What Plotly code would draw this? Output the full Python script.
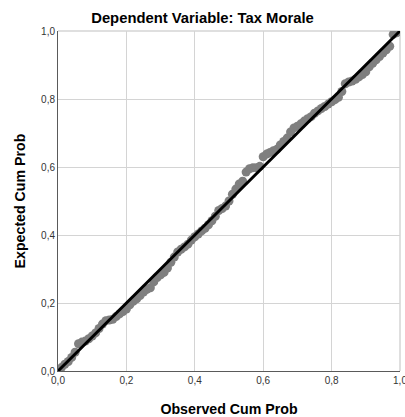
import plotly.graph_objects as go

observed = [0.00, 0.01, 0.02, 0.03, 0.04, 0.05, 0.06, 0.07, 0.08, 0.09,
            0.10, 0.11, 0.12, 0.13, 0.14, 0.15, 0.16, 0.17, 0.18, 0.19,
            0.20, 0.21, 0.22, 0.23, 0.24, 0.25, 0.26, 0.27, 0.28, 0.29,
            0.30, 0.31, 0.32, 0.33, 0.34, 0.35, 0.36, 0.37, 0.38, 0.39,
            0.40, 0.41, 0.42, 0.43, 0.44, 0.45, 0.46, 0.47, 0.48, 0.49,
            0.50, 0.51, 0.52, 0.53, 0.54, 0.55, 0.56, 0.57, 0.58, 0.59,
            0.60, 0.61, 0.62, 0.63, 0.64, 0.65, 0.66, 0.67, 0.68, 0.69,
            0.70, 0.71, 0.72, 0.73, 0.74, 0.75, 0.76, 0.77, 0.78, 0.79,
            0.80, 0.81, 0.82, 0.83, 0.84, 0.85, 0.86, 0.87, 0.88, 0.89,
            0.90, 0.91, 0.92, 0.93, 0.94, 0.95, 0.96, 0.97, 0.98, 0.99, 1.00]
expected = [0.000, 0.010, 0.020, 0.028, 0.040, 0.055, 0.080, 0.085, 0.088, 0.095,
            0.103, 0.112, 0.125, 0.138, 0.148, 0.150, 0.152, 0.160, 0.168, 0.175,
            0.182, 0.195, 0.205, 0.212, 0.222, 0.232, 0.240, 0.245, 0.262, 0.275,
            0.283, 0.290, 0.303, 0.320, 0.335, 0.350, 0.358, 0.365, 0.373, 0.385,
            0.395, 0.403, 0.412, 0.420, 0.430, 0.442, 0.455, 0.472, 0.478, 0.485,
            0.500, 0.520, 0.535, 0.550, 0.558, 0.585, 0.595, 0.598, 0.598, 0.602,
            0.630, 0.638, 0.643, 0.648, 0.652, 0.665, 0.675, 0.685, 0.703, 0.715,
            0.720, 0.727, 0.735, 0.742, 0.748, 0.758, 0.765, 0.772, 0.778, 0.785,
            0.792, 0.798, 0.805, 0.822, 0.845, 0.850, 0.853, 0.858, 0.865, 0.872,
            0.880, 0.895, 0.905, 0.915, 0.925, 0.935, 0.945, 0.955, 0.990, 0.995, 1.000]
ref_line = [0.0, 1.0]
tick_vals = [0.0, 0.2, 0.4, 0.6, 0.8, 1.0]
tick_text = ["0,0", "0,2", "0,4", "0,6", "0,8", "1,0"]

fig = go.Figure()
fig.add_trace(go.Scatter(x=observed, y=expected, mode="markers",
                         marker=dict(size=9, color="#7f7f7f", line=dict(width=0)),
                         showlegend=False, cliponaxis=True))
fig.add_trace(go.Scatter(x=ref_line, y=ref_line, mode="lines",
                         line=dict(color="#000000", width=3), showlegend=False))

axis_common = dict(range=[0, 1], tickvals=tick_vals, ticktext=tick_text,
                   showgrid=True, gridcolor="#d4d4d4", gridwidth=1,
                   zeroline=False, showline=True, linecolor="#5a5a5a", linewidth=1,
                   ticks="", ticklabeloverflow="allow", automargin=False,
                   tickfont=dict(family="Liberation Sans", size=10, color="#333333"),
                   mirror=False)

fig.update_layout(
    width=405, height=417,
    margin=dict(l=58, r=5, t=31, b=46, autoexpand=False),
    paper_bgcolor="white", plot_bgcolor="white",
    title=dict(text="<b>Dependent Variable: Tax Morale</b>", x=0.5, xanchor="center",
               y=1 - 18 / 417, yanchor="middle",
               font=dict(family="Liberation Sans", size=14.8, color="#000000")),
    xaxis=dict(**axis_common,
               title=dict(text="<b>Observed Cum Prob</b>", standoff=19,
                          font=dict(family="Liberation Sans", size=14.2, color="#000000"))),
    yaxis=dict(**axis_common,
               title=dict(text="<b>Expected Cum Prob</b>", standoff=12,
                          font=dict(family="Liberation Sans", size=14.2, color="#000000"))),
    shapes=[
        dict(type="line", xref="paper", yref="paper", x0=1, x1=1, y0=0, y1=1,
             line=dict(color="#d4d4d4", width=1.5), layer="below"),
        dict(type="line", xref="paper", yref="paper", x0=0, x1=1, y0=1, y1=1,
             line=dict(color="#d4d4d4", width=1.5), layer="below"),
    ],
)

fig.write_html("out.html", config={"displayModeBar": False},
               post_script="document.body.style.margin='0';document.body.style.overflow='hidden';")
